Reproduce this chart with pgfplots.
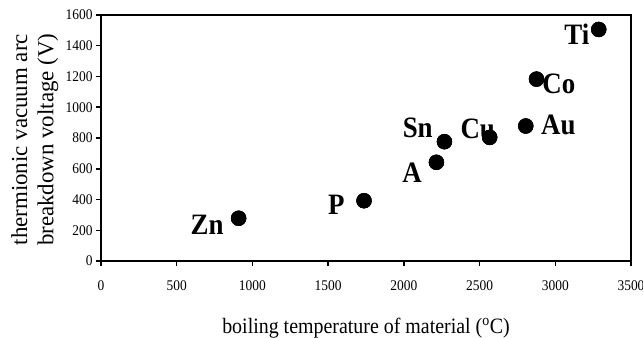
\documentclass[border=0pt]{standalone}
\usepackage{fontspec}
\setmainfont{Liberation Serif}
\usepackage{pgfplots}
\usepackage{pgfplotstable}
\pgfplotsset{compat=1.18}
\pgfplotstableread{
x y label dx dy
909 278 Zn -31.5 -6.7
1737 392 P -27.6 -4.3
2215 642 A -24.3 -10
2268 776 Sn -26.7 13.4
2567 804 Cu -12 8.7
2805 878 Au 32.6 0.7
2876 1183 Co 22.3 -5.2
3287 1506 Ti -21.8 -4.9
}\pointdata
\begin{document}
\begin{tikzpicture}
\path[use as bounding box] (-101bp,-77bp) rectangle (542bp,261bp);
\begin{axis}[
 at={(0,0)}, anchor=south west,
 scale only axis, width=530bp, height=246bp,
 xmin=0, xmax=3500, ymin=0, ymax=1600,
 xtick={0,500,...,3500}, ytick={0,200,...,1600},
 tick align=outside, xtick pos=bottom, ytick pos=left,
 major tick length=5bp,
 axis line style={line width=2bp},
 every tick/.style={black, line width=1.5bp},
 tick label style={font=\fontsize{13.5}{14}\selectfont, yscale=1.1},
 xticklabel style={yshift=-10bp},
 /pgf/number format/assume math mode=true,
 /pgf/number format/set thousands separator={},
 every axis y label/.style={at={(axis description cs:-0.125,0.493)}, rotate=90, anchor=center, align=center, font=\fontsize{23}{26.5}\selectfont},
 every axis x label/.style={at={(axis description cs:0.5,-0.294)}, anchor=base, font=\fontsize{20}{24}\selectfont, yscale=1.1},
 xlabel={boiling temperature of material ($^{\mathrm{o}}$C)},
 ylabel={thermionic vacuum arc\\breakdown voltage (V)},
 clip=false,
]
\addplot[only marks, mark=*, mark size=7.5bp, black,
  nodes near coords, point meta=explicit symbolic,
  visualization depends on={\thisrow{dx} \as \dxv},
  visualization depends on={\thisrow{dy} \as \dyv},
  every node near coord/.append style={anchor=center, inner sep=0pt, xshift=\dxv bp, yshift=\dyv bp, font=\fontsize{27}{27}\bfseries\selectfont, black, yscale=1.1}
] table[x=x, y=y, meta=label] {\pointdata};
\addplot[only marks, mark=*, mark size=7.5bp, black] table[x=x, y=y] {\pointdata};
\end{axis}
\end{tikzpicture}
\end{document}
